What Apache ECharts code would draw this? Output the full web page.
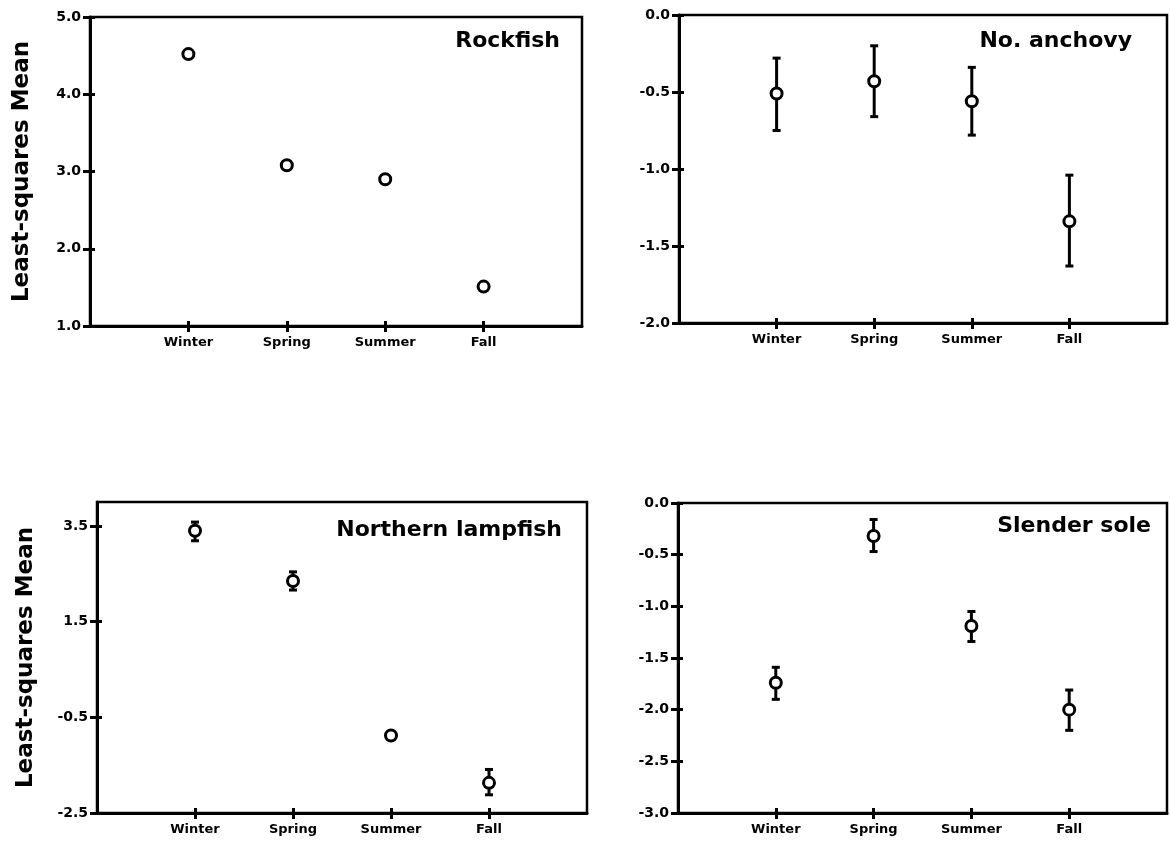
<!DOCTYPE html>
<html>
<head>
<meta charset="utf-8">
<script src="https://cdn.jsdelivr.net/npm/echarts@6/dist/echarts.min.js"></script>
<style>
  html, body { margin: 0; padding: 0; background: #fff; }
  #chart { width: 1170px; height: 852px; }
</style>
</head>
<body>
<div id="chart"></div>
<script>
// categories sit at x = 1..4 on a 0..5 axis
const seasons = ['Winter', 'Spring', 'Summer', 'Fall']
const seasonPos = [1, 2, 3, 4]

// Rockfish
const rockfishMean = [4.52, 3.08, 2.90, 1.51]
const rockfishLow = [null, null, null, null]
const rockfishHigh = [null, null, null, null]
const rockfishTicks = [1, 2, 3, 4, 5]

// No. anchovy
const anchovyMean = [-0.51, -0.43, -0.56, -1.34]
const anchovyLow = [-0.75, -0.66, -0.78, -1.63]
const anchovyHigh = [-0.28, -0.20, -0.34, -1.04]
const anchovyTicks = [-2, -1.5, -1, -0.5, 0]

// Northern lampfish
const lampfishMean = [3.40, 2.35, -0.88, -1.87]
const lampfishLow = [3.19, 2.16, null, -2.12]
const lampfishHigh = [3.58, 2.54, null, -1.59]
const lampfishTicks = [-2.5, -0.5, 1.5, 3.5]

// Slender sole
const soleMean = [-1.74, -0.32, -1.19, -2.00]
const soleLow = [-1.90, -0.47, -1.34, -2.20]
const soleHigh = [-1.59, -0.16, -1.05, -1.81]
const soleTicks = [-3, -2.5, -2, -1.5, -1, -0.5, 0]

const FONT = '"DejaVu Sans", sans-serif'

const panels = [
  { name: 'Rockfish', mean: rockfishMean, low: rockfishLow, high: rockfishHigh, ticks: rockfishTicks,
    min: 1, max: 5, grid: { left: 90, top: 17, width: 492, height: 309 }, titleRight: 605, titleTop: 25, yName: true, nameGap: 56 },
  { name: 'No. anchovy', mean: anchovyMean, low: anchovyLow, high: anchovyHigh, ticks: anchovyTicks,
    min: -2, max: 0, grid: { left: 679, top: 15, width: 488, height: 308 }, titleRight: 33, titleTop: 25, yName: false },
  { name: 'Northern lampfish', mean: lampfishMean, low: lampfishLow, high: lampfishHigh, ticks: lampfishTicks,
    min: -2.5, max: 4.0, grid: { left: 97, top: 502, width: 490, height: 311 }, titleRight: 603, titleTop: 514, yName: true, nameGap: 59 },
  { name: 'Slender sole', mean: soleMean, low: soleLow, high: soleHigh, ticks: soleTicks,
    min: -3, max: 0, grid: { left: 678, top: 503, width: 489, height: 310 }, titleRight: 14, titleTop: 510, yName: false },
]

const grid = []
const xAxis = []
const yAxis = []
const series = []
const title = []

panels.forEach((p, i) => {
  grid.push(Object.assign({ show: true, borderColor: '#000', borderWidth: 2.5, backgroundColor: 'transparent' }, p.grid))
  title.push({
    text: p.name, right: p.titleRight, top: p.titleTop,
    textStyle: { fontFamily: FONT, fontWeight: 'bold', fontSize: 22, color: '#000' },
  })
  // main x axis: outside ticks + labels
  xAxis.push({
    type: 'value', gridIndex: i, min: 0, max: 5, position: 'bottom',
    axisLine: { onZero: false, lineStyle: { color: '#000', width: 3 } },
    axisTick: { customValues: seasonPos, length: 6, lineStyle: { color: '#000', width: 3 } },
    axisLabel: {
      customValues: seasonPos, margin: 10, color: '#000',
      fontFamily: FONT, fontWeight: 'bold', fontSize: 13,
      formatter: (v) => seasons[seasonPos.indexOf(v)] || '',
    },
    splitLine: { show: false },
  })
  // twin x axis for inside ticks
  xAxis.push({
    type: 'value', gridIndex: i, min: 0, max: 5, position: 'bottom',
    axisLine: { show: false, onZero: false },
    axisTick: { inside: true, customValues: seasonPos, length: 5, lineStyle: { color: '#000', width: 3 } },
    axisLabel: { show: false }, splitLine: { show: false },
  })
  yAxis.push({
    type: 'value', gridIndex: i, min: p.min, max: p.max, position: 'left',
    name: p.yName ? 'Least-squares Mean' : '',
    nameLocation: 'middle', nameGap: p.nameGap || 60,
    nameTextStyle: { fontFamily: FONT, fontWeight: 'bold', fontSize: 23, color: '#000' },
    axisLine: { onZero: false, lineStyle: { color: '#000', width: 3 } },
    axisTick: { customValues: p.ticks, length: 7, lineStyle: { color: '#000', width: 3 } },
    axisLabel: {
      customValues: p.ticks, margin: 9, color: '#000',
      fontFamily: FONT, fontWeight: 'bold', fontSize: 14,
      formatter: (v) => v.toFixed(1),
    },
    splitLine: { show: false },
  })
  yAxis.push({
    type: 'value', gridIndex: i, min: p.min, max: p.max, position: 'left',
    axisLine: { show: false, onZero: false },
    axisTick: { inside: true, customValues: p.ticks, length: 5, lineStyle: { color: '#000', width: 3 } },
    axisLabel: { show: false }, splitLine: { show: false },
  })

  const errData = []
  seasonPos.forEach((x, k) => {
    if (p.low[k] != null && p.high[k] != null) errData.push([x, p.low[k], p.high[k]])
  })
  series.push({
    type: 'custom', xAxisIndex: i * 2, yAxisIndex: i * 2, z: 2,
    data: errData,
    renderItem: (params, api) => {
      const lo = api.coord([api.value(0), api.value(1)])
      const hi = api.coord([api.value(0), api.value(2)])
      const cap = 4
      const st = { stroke: '#000', lineWidth: 3 }
      return {
        type: 'group',
        children: [
          { type: 'line', shape: { x1: lo[0], y1: lo[1], x2: hi[0], y2: hi[1] }, style: st },
          { type: 'line', shape: { x1: lo[0] - cap, y1: lo[1], x2: lo[0] + cap, y2: lo[1] }, style: st },
          { type: 'line', shape: { x1: hi[0] - cap, y1: hi[1], x2: hi[0] + cap, y2: hi[1] }, style: st },
        ],
      }
    },
  })
  series.push({
    type: 'scatter', xAxisIndex: i * 2, yAxisIndex: i * 2, z: 3,
    symbol: 'circle', symbolSize: 11,
    itemStyle: { color: '#fff', borderColor: '#000', borderWidth: 3, opacity: 1 },
    data: seasonPos.map((x, k) => [x, p.mean[k]]),
  })
})

const chart = echarts.init(document.getElementById('chart'), null, { renderer: 'canvas' })
chart.setOption({
  animation: false,
  backgroundColor: '#fff',
  title, grid, xAxis, yAxis, series,
})
</script>
</body>
</html>
